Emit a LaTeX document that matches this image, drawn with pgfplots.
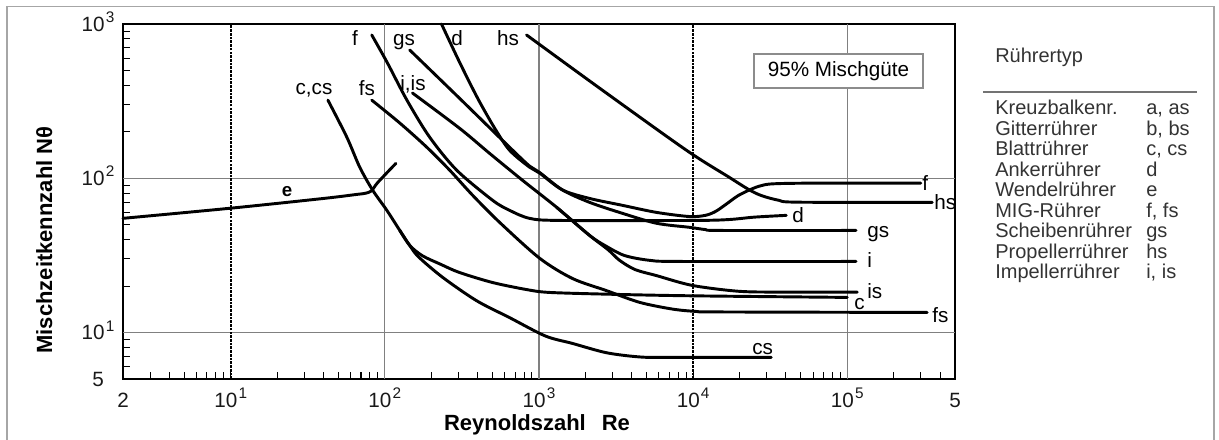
\documentclass[border=0pt]{standalone}
\usepackage{fontspec}
\setmainfont{Liberation Sans}
\usepackage{pgfplots}
\pgfplotsset{compat=1.18}
\newcommand\fa{\fontsize{15.5}{18}\selectfont}
\newcommand\fb{\bfseries\fontsize{16.5}{20}\selectfont}
\newcommand\fl{\fontsize{15}{18}\selectfont}
\newcommand\tp[1]{10\kern0.06em\raisebox{0.42em}{\fontsize{11.5}{12}\selectfont #1}}
\begin{document}
\begin{tikzpicture}
\path[use as bounding box] (0,0) rectangle (914.25pt,329.25pt);
\begin{axis}[
 at={(92.25pt,45pt)}, anchor=south west, scale only axis, width=624pt, height=266.25pt,
 xmode=log, ymode=log, xmin=2, xmax=500000, ymin=5, ymax=1000,
 clip=false, axis line style={line width=1.6pt}, tick align=inside, tick pos=left,
 xtick={2,10,100,1000,10000,100000,500000},
 xticklabels={2,\tp{1},\tp{2},\tp{3},\tp{4},\tp{5},5},
 ytick={5,10,100,1000},
 yticklabels={5,\tp{1},\tp{2},\tp{3}},
 minor xtick={3,4,5,6,7,8,9,20,30,40,50,60,70,80,90,200,300,400,500,600,700,800,900,2000,3000,4000,5000,6000,7000,8000,9000,20000,30000,40000,50000,60000,70000,80000,90000,200000,300000,400000},
 minor ytick={6,7,8,9,20,30,40,50,60,70,80,90,200,300,400,500,600,700,800,900},
 major tick length=5.25pt, minor tick length=5.25pt,
 tick style={black, line width=0.8pt},
 xticklabel style={font=\fa, anchor=base, yshift=-21pt, text=black!90},
 yticklabel style={font=\fa, anchor=base, xshift=-18.75pt, yshift=-5.5pt, text=black!90},
 cycle list={{black}},
 every axis plot post/.append style={black, solid, line width=2.2pt, line join=round, line cap=round, smooth, tension=0.5, mark=none},
]
% grid
\draw[black!50, line width=0.8pt] (axis cs:100,5) -- (axis cs:100,1000);
\draw[black!50, line width=0.8pt] (axis cs:1000,5) -- (axis cs:1000,1000);
\draw[black!50, line width=0.8pt] (axis cs:100000,5) -- (axis cs:100000,1000);
\draw[black!50, line width=0.8pt] (axis cs:2,10) -- (axis cs:500000,10);
\draw[black!50, line width=0.8pt] (axis cs:2,100) -- (axis cs:500000,100);
\draw[black, line width=1.2pt, dash pattern=on 2pt off 0.8pt] (axis cs:10,5) -- (axis cs:10,1000);
\draw[black, line width=1.2pt, dash pattern=on 2pt off 0.8pt] (axis cs:10000,5) -- (axis cs:10000,1000);
% e
\addplot coordinates {(2,55) (10,64) (40,74) (65,78.5) (75,80) (82,83) (90,94) (118,125)};
% c,cs -> cs
\addplot coordinates {(42.7,321) (56.6,185) (68.7,118) (83.4,83.6) (103,62) (125,45.9) (145,36.7) (165,31) (237,22.8) (393,16.1) (644,12.5) (1100,9.5) (1650,8.5) (2740,7.4) (4490,6.95) (7000,6.9) (32100,6.9)};
% c branch
\addplot coordinates {(125,45.9) (145,36.7) (175,31.5) (230,27.7) (305,24.5) (500,21.1) (830,19.0) (1170,18.2) (3000,17.7) (10000,17.3) (100000,16.9)};
% f start path
\addplot coordinates {(82.2,849) (104,558) (139,321) (195,185) (292,113) (500,72) (644,62) (868,55) (1360,53.3) (10000,53.3) (17000,54) (25000,56) (40200,57.5)};
% d start path
\addplot coordinates {(233,1000) (305,566) (400,330) (516,211) (644,152) (868,118) (1010,108) (1420,84) (2130,74) (3470,66.8) (5780,60.1) (9460,56.5) (12000,57.5) (14000,61) (16400,68) (19500,77) (23200,84) (27000,89) (32700,92) (60000,93) (300000,93)};
% gs
\addplot coordinates {(145,678) (305,330) (644,159) (868,120) (1010,109) (1420,84) (2130,69.8) (3470,59.3) (5780,51.1) (9460,48.1) (12000,46.5) (15000,45.9) (114000,45.9)};
% hs
\addplot coordinates {(830,849) (2470,384) (9040,152) (17000,102) (23200,84) (28000,77) (36000,72) (48000,70) (356000,69.8)};
% i
\addplot coordinates {(151,357) (305,211) (478,145) (782,97) (1300,64.9) (2130,42.6) (2700,36.5) (3580,31.6) (5200,29.4) (8140,28.9) (114000,28.9)};
% is
\addplot coordinates {(1300,64.9) (2130,42.6) (2800,34.5) (3330,29.4) (4200,25.6) (5780,23.4) (9890,20.2) (20000,18.5) (40000,18.3) (116000,18.3)};
% fs
\addplot coordinates {(82.2,321) (125,228) (187,159) (263,113) (371,77.6) (555,51.8) (1010,30.3) (1650,22.4) (2740,18.7) (4490,15.7) (7330,14.2) (10500,13.7) (15000,13.6) (330000,13.5)};
\end{axis}
\begin{scope}[x=0.75pt,y=-0.75pt,yshift=329.25pt]
\draw[black!35, line width=1.2pt] (7,6.5) rectangle (1214,470);
% curve labels
\node[font=\fa, anchor=base] at (355,46) {f};
\node[font=\fa, anchor=base] at (404,46) {gs};
\node[font=\fa, anchor=base] at (457,46) {d};
\node[font=\fa, anchor=base] at (508,46) {hs};
\node[font=\fa, anchor=base] at (314,95) {c,cs};
\node[font=\fa, anchor=base] at (367,96) {fs};
\node[font=\fa, anchor=base] at (413,91) {i,is};
\node[font=\bfseries\fontsize{14}{16}\selectfont, anchor=base] at (287,197) {e};
\node[font=\fa, anchor=base west, inner sep=0pt] at (922,191) {f};
\node[font=\fa, anchor=base west, inner sep=0pt] at (934,210) {hs};
\node[font=\fa, anchor=base west, inner sep=0pt] at (792,223) {d};
\node[font=\fa, anchor=base west, inner sep=0pt] at (867,238) {gs};
\node[font=\fa, anchor=base west, inner sep=0pt] at (867,268) {i};
\node[font=\fa, anchor=base west, inner sep=0pt] at (867,299) {is};
\node[font=\fa, anchor=base west, inner sep=0pt] at (854,310) {c};
\node[font=\fa, anchor=base west, inner sep=0pt] at (932,322) {fs};
\node[font=\fa, anchor=base west, inner sep=0pt] at (752,354) {cs};
% box
\node[draw=black!45, line width=1pt, font=\fontsize{15.5}{18}\selectfont, minimum width=126.75pt, minimum height=25.5pt, inner sep=0pt, fill=white] at (838.5,71) {95\% Mischgüte};
% axis labels
\node[font=\fb, anchor=base] at (537,430) {Reynoldszahl\hspace{12pt}Re};
\node[font=\fb, anchor=base, rotate=90] at (52,240) {Mischzeitkennzahl Nθ};
% right panel
\node[font=\fl, text=black!80, anchor=base west, inner sep=0pt] at (995,63) {Rührertyp};
\draw[black!55, line width=1.5pt] (983,92) -- (1197,92);
\foreach \n/\c [count=\k from 0] in {Kreuzbalkenr./{a, as},Gitterrührer/{b, bs},Blattrührer/{c, cs},Ankerrührer/d,Wendelrührer/e,MIG-Rührer/{f, fs},Scheibenrührer/gs,Propellerrührer/hs,Impellerrührer/{i, is}}{
  \node[font=\fl, text=black!80, anchor=base west, inner sep=0pt] at (995,115+20.5*\k) {\n};
  \node[font=\fl, text=black!80, anchor=base west, inner sep=0pt] at (1146,115+20.5*\k) {\c};
}
\end{scope}
\end{tikzpicture}
\end{document}
